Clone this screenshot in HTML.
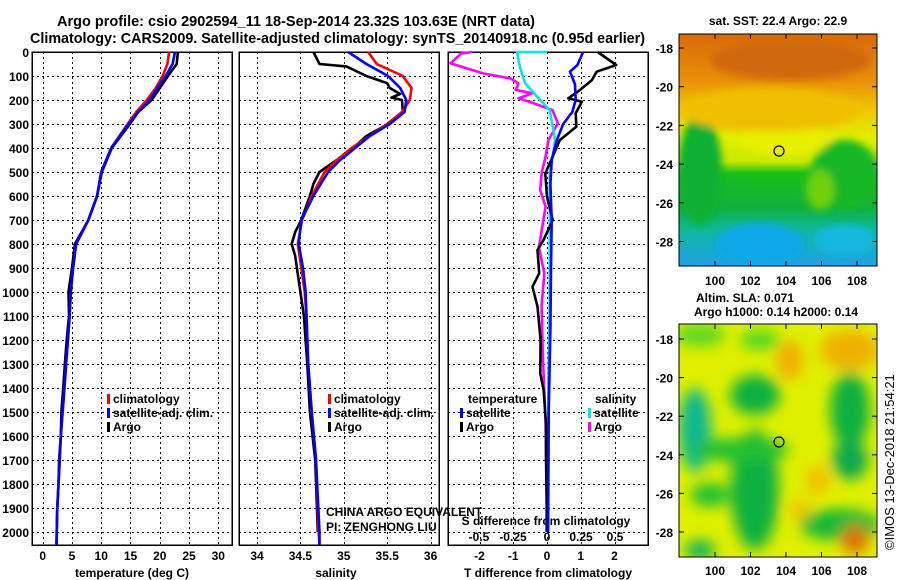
<!DOCTYPE html>
<html><head><meta charset="utf-8"><style>
html,body{margin:0;padding:0;background:#fff;}
svg{display:block;font-family:"Liberation Sans",sans-serif;}
.b{font-weight:bold;font-size:12px;}
</style></head><body>
<svg id="chart" width="900" height="580" viewBox="0 0 900 580" xmlns="http://www.w3.org/2000/svg">
<defs>
<filter id="blur1" x="-20%" y="-20%" width="140%" height="140%"><feGaussianBlur stdDeviation="4"/></filter>
<filter id="blur2" x="-30%" y="-30%" width="160%" height="160%"><feGaussianBlur stdDeviation="7"/></filter>
<clipPath id="clipA"><rect x="679" y="34" width="198" height="232"/></clipPath>
<clipPath id="clipB"><rect x="679" y="324" width="198" height="233"/></clipPath>
<linearGradient id="sstg" x1="0" y1="0" x2="0" y2="1">
<stop offset="0" stop-color="#d86a08"/><stop offset="0.2" stop-color="#e89008"/><stop offset="0.33" stop-color="#f0c800"/><stop offset="0.45" stop-color="#e0f000"/><stop offset="0.55" stop-color="#c8e800"/><stop offset="0.6" stop-color="#18c018"/><stop offset="0.75" stop-color="#10b040"/><stop offset="0.85" stop-color="#10b8a0"/><stop offset="1" stop-color="#20a0e8"/>
</linearGradient>
</defs>
<text x="57" y="26" font-size="15" font-weight="bold" textLength="478" lengthAdjust="spacingAndGlyphs">Argo profile: csio 2902594_11 18-Sep-2014 23.32S 103.63E (NRT data)</text>
<text x="30" y="43" font-size="15" font-weight="bold" textLength="615" lengthAdjust="spacingAndGlyphs">Climatology: CARS2009. Satellite-adjusted climatology: synTS_20140918.nc (0.95d earlier)</text>
<g id="panels"></g>

<g clip-path="url(#clipA)">
<rect x="679" y="34" width="198" height="232" fill="url(#sstg)"/>
<g filter="url(#blur1)">
<ellipse cx="700" cy="170" rx="22" ry="55" fill="#10b030"/>
<ellipse cx="845" cy="175" rx="35" ry="35" fill="#18b828"/>
<ellipse cx="785" cy="140" rx="45" ry="15" fill="#e8f000"/>
<ellipse cx="820" cy="190" rx="14" ry="20" fill="#70d010"/>
<ellipse cx="760" cy="245" rx="45" ry="22" fill="#10a8e8"/>
<ellipse cx="845" cy="240" rx="30" ry="15" fill="#18b8e0"/>
<ellipse cx="770" cy="110" rx="90" ry="22" fill="#f0c000"/>
<ellipse cx="790" cy="60" rx="80" ry="20" fill="#d06808"/>
</g>
</g>
<rect x="679" y="34" width="198" height="232" fill="none" stroke="#000"/>
<circle cx="779" cy="151" r="5" fill="none" stroke="#000" stroke-width="1.2"/>
<text x="778" y="25" text-anchor="middle" class="b">sat. SST: 22.4 Argo: 22.9</text>

<g clip-path="url(#clipB)">
<rect x="679" y="324" width="198" height="233" fill="#e0f000"/>
<g filter="url(#blur2)">
<ellipse cx="700" cy="335" rx="25" ry="12" fill="#60d820"/>
<ellipse cx="760" cy="340" rx="20" ry="10" fill="#50d820"/>
<ellipse cx="790" cy="360" rx="14" ry="20" fill="#f0b000"/>
<ellipse cx="850" cy="350" rx="30" ry="20" fill="#f0b000"/>
<ellipse cx="755" cy="395" rx="25" ry="20" fill="#10b040"/>
<ellipse cx="695" cy="430" rx="16" ry="42" fill="#10b890"/>
<ellipse cx="850" cy="410" rx="20" ry="38" fill="#10b040"/>
<ellipse cx="850" cy="460" rx="18" ry="20" fill="#10a850"/>
<ellipse cx="755" cy="490" rx="24" ry="60" fill="#10b040"/>
<ellipse cx="740" cy="450" rx="50" ry="12" fill="#20c030"/>
<ellipse cx="710" cy="495" rx="20" ry="12" fill="#20c030"/>
<ellipse cx="840" cy="525" rx="40" ry="16" fill="#18b838"/>
<ellipse cx="855" cy="540" rx="14" ry="14" fill="#e07000"/>
<ellipse cx="800" cy="510" rx="10" ry="10" fill="#f0c000"/>
<ellipse cx="818" cy="480" rx="12" ry="15" fill="#f0c000"/>
<ellipse cx="700" cy="550" rx="15" ry="10" fill="#10b060"/>
</g>
</g>
<rect x="679" y="324" width="198" height="233" fill="none" stroke="#000"/>
<circle cx="779" cy="442" r="5" fill="none" stroke="#000" stroke-width="1.2"/>
<text x="745" y="302" text-anchor="middle" class="b">Altim. SLA: 0.071</text>
<text x="776" y="316" text-anchor="middle" class="b">Argo h1000: 0.14 h2000: 0.14</text>
<text transform="translate(894,550) rotate(-90)" font-size="13">©IMOS 13-Dec-2018 21:54:21</text>
<g id="maps"></g>
</svg>
<script>
var tempDepthArgo=[0,50,100,150,200,250,300,400,500,600,700,800,900,1000,1100,1200,1300,1400,1500,1600,1700,1800,1900,2000];
var tempArgo=[23.1,22.9,21.4,20.0,18.6,16.3,14.9,11.8,10.1,9.3,7.8,5.5,5.0,4.4,4.5,4.1,3.8,3.5,3.2,3.1,2.8,2.7,2.5,2.4];
var tempDepthClim=[0,50,100,150,200,250,300,400,500,600,700,800,900,1000,1100,1200,1300,1400,1500,1600,1700,1800,1900,2000,2054];
var tempClim=[21.6,21.3,20.5,19.3,17.8,16.0,14.5,11.7,10.0,9.3,7.8,5.7,5.2,4.8,4.6,4.3,4.0,3.7,3.4,3.1,2.9,2.7,2.5,2.4,2.3];
var tempSat=[22.6,22.2,21.0,19.6,18.3,16.3,14.7,11.7,10.0,9.3,7.8,5.7,5.2,4.8,4.6,4.3,4.0,3.7,3.4,3.1,2.9,2.7,2.5,2.4,2.4];
var salDepthArgo=[0,50,60,100,130,150,175,190,200,250,300,350,400,450,500,550,600,700,750,800,850,900,1000,1100,1300,1500,1700,2000];
var salArgo=[34.65,34.72,35.03,35.26,35.5,35.53,35.65,35.55,35.67,35.68,35.51,35.26,35.11,34.92,34.72,34.65,34.61,34.51,34.44,34.40,34.44,34.46,34.50,34.54,34.58,34.61,34.67,34.70];
var salDepthClim=[0,50,100,150,200,250,300,350,400,450,500,600,700,800,900,1000,1100,1300,1500,1700,2000,2054];
var salClim=[35.28,35.38,35.68,35.78,35.76,35.67,35.50,35.30,35.09,34.92,34.78,34.63,34.52,34.47,34.51,34.55,34.57,34.59,34.63,34.68,34.71,34.72];
var salSat=[35.05,35.26,35.51,35.65,35.72,35.70,35.53,35.30,35.13,34.96,34.82,34.65,34.51,34.48,34.53,34.56,34.57,34.59,34.63,34.68,34.72,34.72];
var tdDepthArgo=[0,54,82,117,158,193,207,256,311,367,464,506,603,700,783,825,922,978,1061,1200,1339,1408,1547,1686,1894,2000];
var tdArgo=[1.5,2.05,1.47,1.33,0.98,0.63,1.03,0.85,0.87,0.38,0.08,-0.05,0,0.17,-0.1,-0.28,-0.23,-0.43,-0.28,-0.19,-0.2,-0.1,-0.03,-0.03,-0.01,-0.01];
var tdDepthSat=[0,54,82,135,200,250,300,367,450,550,700,900,1150,1500,2000];
var tdSat=[1.07,0.9,0.68,0.83,0.85,0.75,0.48,0.29,0.14,0.1,0.14,0.12,0.1,0.05,0.03];
var sdDepthArgo=[0,6,47,89,110,131,158,172,193,207,242,297,367,436,506,575,644,783,811,922,1061,1269,1547,1894,2000];
var sdArgo=[-0.55,-0.63,-0.71,-0.47,-0.27,-0.21,-0.23,-0.11,-0.21,-0.13,0.04,0.08,0.01,-0.01,-0.04,-0.05,-0.01,-0.05,-0.06,-0.02,-0.04,-0.03,-0.01,0,0];
var sdDepthSat=[0,0,61,131,200,242,367,506,783,1061,1339,1894,2000];
var sdSat=[0.0,-0.22,-0.2,-0.16,-0.05,0.02,0.06,0.02,0.02,0.02,0.01,0.01,0.01];
var depthTicks=[0,100,200,300,400,500,600,700,800,900,1000,1100,1200,1300,1400,1500,1600,1700,1800,1900,2000];
var tempTicks=[0,5,10,15,20,25,30];
var salTicks=[34,34.5,35,35.5,36];
var salTickLabels=["34","34.5","35","35.5","36"];
var tdTicks=[-2,-1,0,1,2];
var sdTicks=[-0.5,-0.25,0,0.25,0.5];
var sdTickLabels=["-0.5","-0.25","0","0.25","0.5"];
var latTicks=[-18,-20,-22,-24,-26,-28];
var lonTicks=[100,102,104,106,108];

var NS="http://www.w3.org/2000/svg";
var TOP=52, BOT=545;
function yD(d){return TOP+d*0.24;}
function xT(t){return 42.7+t*5.853;}
function xS(s){return 257+(s-34)*86.8;}
function xTD(t){return 547+t*33.75;}
function xSD(s){return 547+s*136;}
var G=document.getElementById('panels');
function mk(tag,attrs,parent){var e=document.createElementNS(NS,tag);for(var k in attrs)e.setAttribute(k,attrs[k]);(parent||G).appendChild(e);return e;}
function txt(x,y,s,anchor,cls,parent){var t=mk('text',{x:x,y:y,'text-anchor':anchor||'middle','class':cls||'b'},parent);t.textContent=s;return t;}
function line(xs,ds,color,fx,name){
  var pts=[];for(var i=0;i<xs.length;i++)pts.push(fx(xs[i]).toFixed(1)+','+yD(ds[i]).toFixed(1));
  var p=mk('polyline',{points:pts.join(' '),fill:'none',stroke:color,'stroke-width':2.6,'stroke-linejoin':'round'});
  
  
}
var panels=[{x0:32,x1:232,name:'temperature-panel'},{x0:239,x1:439,name:'salinity-panel'},{x0:448,x1:648,name:'difference-panel'}];
panels.forEach(function(p,pi){
  var g=mk('g',{'shape-rendering':'crispEdges'});
  
  
  depthTicks.forEach(function(d){
    var y=Math.round(yD(d))+0.5;
    var l=mk('line',{x1:p.x0,x2:p.x1,y1:y,y2:y,stroke:'#000','stroke-dasharray':'2,3','stroke-width':1},g);
    
    
  });
  var xs=pi==0?tempTicks.map(xT):pi==1?salTicks.map(xS):tdTicks.map(xTD);
  xs.forEach(function(x){
    var xx=Math.round(x)+0.5;
    var l=mk('line',{x1:xx,x2:xx,y1:TOP,y2:BOT,stroke:'#000','stroke-dasharray':'2,3','stroke-width':1},g);
    
    
  });
  var r=mk('rect',{x:p.x0,y:TOP,width:p.x1-p.x0,height:BOT-TOP,fill:'none',stroke:'#000','stroke-width':1.5},g);
  
  
});
depthTicks.forEach(function(d){
  var t=txt(29,yD(d)+5,String(d),'end');
  
  
});
tempTicks.forEach(function(v){var t=txt(xT(v),560,String(v));});
salTicks.forEach(function(v,i){var t=txt(xS(v),560,salTickLabels[i]);});
tdTicks.forEach(function(v){var t=txt(xTD(v),560,String(v));});
sdTicks.forEach(function(v,i){var t=txt(xSD(v),541,sdTickLabels[i]);});
var t1=txt(132,577,'temperature (deg C)');
var t2=txt(336,577,'salinity');
var t3=txt(548,577,'T difference from climatology');
var t4=txt(546,525,'S difference from climatology');

line(tempArgo,tempDepthArgo,'#000',xT,'temperature-argo-line');
line(tempClim,tempDepthClim,'#ff0000',xT,'temperature-climatology-line');
line(tempSat,tempDepthClim,'#0000ff',xT,'temperature-satellite-line');
line(salArgo,salDepthArgo,'#000',xS,'salinity-argo-line');
line(salClim,salDepthClim,'#ff0000',xS,'salinity-climatology-line');
line(salSat,salDepthClim,'#0000ff',xS,'salinity-satellite-line');
line(sdArgo,sdDepthArgo,'#ff00ff',xSD,'s-diff-argo-line');
line(sdSat,sdDepthSat,'#00e8e8',xSD,'s-diff-satellite-line');
line(tdArgo,tdDepthArgo,'#000',xTD,'t-diff-argo-line');
line(tdSat,tdDepthSat,'#0000ff',xTD,'t-diff-satellite-line');

function leg(x,y,color,label){
  var r=mk('rect',{x:x,y:y-9,width:3,height:10,fill:color});
  
  
  var t=txt(x+6,y,label,'start');
  
  
}
[[0,'#ff0000','climatology'],[1,'#0000ff','satellite-adj. clim.'],[2,'#000','Argo']].forEach(function(e){
  leg(107,403+e[0]*14,e[1],e[2]);
  leg(328,403+e[0]*14,e[1],e[2]);
});
var lt=txt(468,403,'temperature','start');
var ls=txt(595,403,'salinity','start');
leg(460,417,'#0000ff','satellite');leg(460,431,'#000','Argo');
leg(588,417,'#00e8e8','satellite');leg(588,431,'#ff00ff','Argo');
var c1=txt(326,516,'CHINA ARGO EQUIVALENT','start','');c1.setAttribute('font-size','12');
var c2=txt(326,531,'PI: ZENGHONG LIU','start','');c2.setAttribute('font-size','12');

var M=document.getElementById('maps');
function mapAxes(top,bot,latY0,latStep,lonY){
  latTicks.forEach(function(v,i){
    var y=latY0+i*latStep;
    var t=txt(673,y+5,String(v),'end','b',M);
    
    
    mk('line',{x1:679,x2:684,y1:y,y2:y,stroke:'#000'},M);
    mk('line',{x1:872,x2:877,y1:y,y2:y,stroke:'#000'},M);
  });
  lonTicks.forEach(function(v){
    var x=715+(v-100)*17.75;
    var t=txt(x,lonY,String(v),'middle','b',M);
    
    
    mk('line',{x1:x,x2:x,y1:bot-5,y2:bot,stroke:'#000'},M);
    mk('line',{x1:x,x2:x,y1:top,y2:top+5,stroke:'#000'},M);
  });
}
mapAxes(34,266,48,38.7,285);
mapAxes(324,557,339,38.6,575);
</script>
</body></html>
